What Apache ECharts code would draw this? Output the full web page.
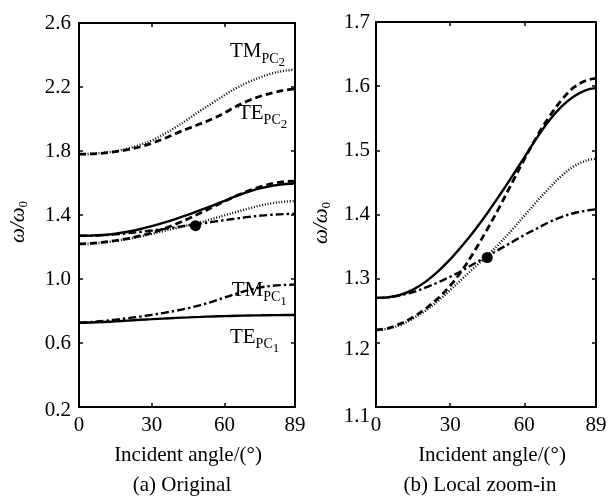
<!DOCTYPE html>
<html><head><meta charset="utf-8">
<script src="https://cdn.jsdelivr.net/npm/echarts@6/dist/echarts.min.js"></script>
<style>html,body{margin:0;padding:0;background:#fff}#c{width:613px;height:502px}</style>
</head><body><div id="c"></div>
<script>
// ---- data ----
const angles = [0,5,10,15,20,25,30,35,40,45,50,55,60,65,70,75,80,85,89];
const tePC1 = [0.727,0.728,0.731,0.735,0.740,0.745,0.749,0.753,0.757,0.760,0.763,0.766,0.768,0.770,0.772,0.773,0.774,0.775,0.775];
const tmPC1 = [0.727,0.731,0.738,0.746,0.755,0.765,0.776,0.788,0.802,0.818,0.837,0.859,0.884,0.909,0.931,0.948,0.958,0.963,0.965];
const midSolid = [1.270,1.271,1.275,1.283,1.295,1.311,1.330,1.352,1.376,1.402,1.430,1.459,1.489,1.519,1.546,1.568,1.584,1.594,1.597];
const midDashDot = [1.270,1.271,1.274,1.279,1.286,1.294,1.303,1.313,1.324,1.335,1.346,1.357,1.368,1.378,1.388,1.396,1.402,1.406,1.408];
const midDashed = [1.220,1.223,1.230,1.240,1.253,1.269,1.289,1.314,1.344,1.377,1.412,1.449,1.486,1.521,1.552,1.578,1.598,1.609,1.612];
const midDotted = [1.220,1.222,1.228,1.238,1.250,1.265,1.282,1.300,1.318,1.336,1.355,1.376,1.398,1.420,1.441,1.460,1.475,1.484,1.487];
const tmPC2 = [1.780,1.782,1.789,1.799,1.815,1.838,1.866,1.905,1.950,2.000,2.052,2.100,2.150,2.195,2.232,2.262,2.287,2.302,2.310];
const tePC2 = [1.780,1.782,1.787,1.796,1.808,1.825,1.848,1.877,1.910,1.941,1.970,2.001,2.039,2.081,2.116,2.144,2.165,2.181,2.189];
const markerA = [[48,1.333]];
const markerB = [[45,1.333]];
const xTicks = [0,30,60,89];
const yTicksA = [0.2,0.6,1.0,1.4,1.8,2.2,2.6];
const yTicksB = [1.1,1.2,1.3,1.4,1.5,1.6,1.7];
const curveLabels = [
  {main:'TM', sub:'PC', idx:'2', a:62.2, v:2.419},
  {main:'TE', sub:'PC', idx:'2', a:65.5, v:2.036},
  {main:'TM', sub:'PC', idx:'1', a:62.9, v:0.928},
  {main:'TE', sub:'PC', idx:'1', a:62.2, v:0.634}
];
const xTitle = 'Incident angle/(°)';
const captionA = '(a) Original';
const captionB = '(b) Local zoom-in';

// ---- styling helpers ----
const FF = '"Liberation Serif","Times New Roman",serif';
const mainFont = '21px ' + FF;
const subFont = '14px ' + FF;
const idxFont = '13px ' + FF;
const ctx = document.createElement('canvas').getContext('2d');
function tw(t, f){ ctx.font = f; return ctx.measureText(t).width; }
const pairs = arr => angles.map((a,i)=>[a, arr[i]]);
const labelShift = {'0.2':3, '1.2':7, '1.1':9};  // small vertical offsets of some tick labels

const solid = {color:'#000', width:2.4, type:'solid'};
const dashed = {color:'#000', width:2.8, type:[7,4]};
const dotted = {color:'#000', width:2.4, type:[1,1.8], cap:'butt'};
const dashDot = {color:'#000', width:2.4, type:[8,3,2.5,3]};

function line(name, arr, style, gi){
  return {type:'line', name, data:pairs(arr), xAxisIndex:gi*2, yAxisIndex:gi*2,
    showSymbol:false, smooth:0.35, lineStyle:style, silent:true, z:3};
}
function axisX(gi, pos){
  const bottom = pos === 'bottom';
  return {type:'value', gridIndex:gi, position:pos, min:0, max:89,
    axisLine:{show:true, onZero:false, lineStyle:{color:'#000', width:2}},
    axisTick:{show:true, inside:true, length:4, customValues:xTicks, lineStyle:{color:'#000', width:1.5}},
    axisLabel:{show:bottom, customValues:xTicks, margin:8, color:'#000', fontFamily:FF, fontSize:21},
    splitLine:{show:false}};
}
const richShift = {};
[3,7,9].forEach(s => { richShift['s'+s] = {fontFamily:FF, fontSize:21, color:'#000', padding:[2*s,0,0,0]}; });
function axisY(gi, pos, mn, mx, ticks, margin){
  const left = pos === 'left';
  return {type:'value', gridIndex:gi, position:pos, min:mn, max:mx,
    axisLine:{show:true, onZero:false, lineStyle:{color:'#000', width:2}},
    axisTick:{show:true, inside:true, length:4, customValues:ticks, lineStyle:{color:'#000', width:1.5}},
    axisLabel:{show:left, customValues:ticks, margin, color:'#000', fontFamily:FF, fontSize:21,
      rich:richShift,
      formatter: v => { const t = Number(v).toFixed(1); const s = labelShift[t]; return s ? '{s'+s+'|'+t+'}' : t; }},
    splitLine:{show:false}};
}
function yName(x, y){
  const wf = 'italic 21px ' + FF;
  const w = tw('ω/ω', wf), w0 = tw('0', idxFont);
  const s = -(w + w0)/2;
  return {type:'group', x, y, rotation:Math.PI/2, children:[
    {type:'text', x:s, y:0, style:{text:'ω/ω', font:wf, fill:'#000', align:'left', verticalAlign:'middle'}},
    {type:'text', x:s+w, y:5, style:{text:'0', font:idxFont, fill:'#000', align:'left', verticalAlign:'middle'}}
  ]};
}
function ctext(t, x, y){
  return {type:'text', x, y, style:{text:t, font:mainFont, fill:'#000', align:'center', verticalAlign:'middle'}};
}
function dot(data, ai){
  return {type:'scatter', data, xAxisIndex:ai, yAxisIndex:ai, symbol:'circle', symbolSize:11,
    itemStyle:{color:'#000', opacity:1, borderWidth:0}, z:5, silent:true};
}

const chart = echarts.init(document.getElementById('c'), null, {renderer:'canvas'});
chart.setOption({
  animation:false,
  backgroundColor:'#fff',
  grid:[{left:79, top:23, width:216, height:384}, {left:376, top:22, width:220, height:385}],
  xAxis:[axisX(0,'bottom'), axisX(0,'top'), axisX(1,'bottom'), axisX(1,'top')],
  yAxis:[axisY(0,'left',0.2,2.6,yTicksA,8), axisY(0,'right',0.2,2.6,yTicksA,8),
         axisY(1,'left',1.1,1.7,yTicksB,6), axisY(1,'right',1.1,1.7,yTicksB,6)],
  series:[
    line('TE_PC1', tePC1, solid, 0),
    line('TM_PC1', tmPC1, dashDot, 0),
    line('midSolid', midSolid, solid, 0),
    line('midDashDot', midDashDot, dashDot, 0),
    line('midDashed', midDashed, dashed, 0),
    line('midDotted', midDotted, dotted, 0),
    line('TM_PC2', tmPC2, dotted, 0),
    line('TE_PC2', tePC2, dashed, 0),
    dot(markerA, 0),
    line('midSolidB', midSolid, solid, 1),
    line('midDashDotB', midDashDot, dashDot, 1),
    line('midDashedB', midDashed, dashed, 1),
    line('midDottedB', midDotted, dotted, 1),
    dot(markerB, 2),
    {type:'custom', xAxisIndex:0, yAxisIndex:0, silent:true, z:6,
      data: curveLabels.map(d=>[d.a, d.v]),
      renderItem:(params, api)=>{
        const d = curveLabels[params.dataIndex];
        const p = api.coord([api.value(0), api.value(1)]);
        const w1 = tw(d.main, mainFont), w2 = tw(d.sub, subFont);
        return {type:'group', children:[
          {type:'text', x:p[0], y:p[1], style:{text:d.main, font:mainFont, fill:'#000', align:'left', verticalAlign:'middle'}},
          {type:'text', x:p[0]+w1, y:p[1]+7, style:{text:d.sub, font:subFont, fill:'#000', align:'left', verticalAlign:'middle'}},
          {type:'text', x:p[0]+w1+w2, y:p[1]+11, style:{text:d.idx, font:idxFont, fill:'#000', align:'left', verticalAlign:'middle'}}
        ]};
      }}
  ],
  graphic:[
    yName(18.5, 222),
    yName(321.5, 223),
    ctext(xTitle, 188, 455),
    ctext(xTitle, 492, 455),
    ctext(captionA, 182, 485),
    ctext(captionB, 480, 485)
  ]
});
</script></body></html>
